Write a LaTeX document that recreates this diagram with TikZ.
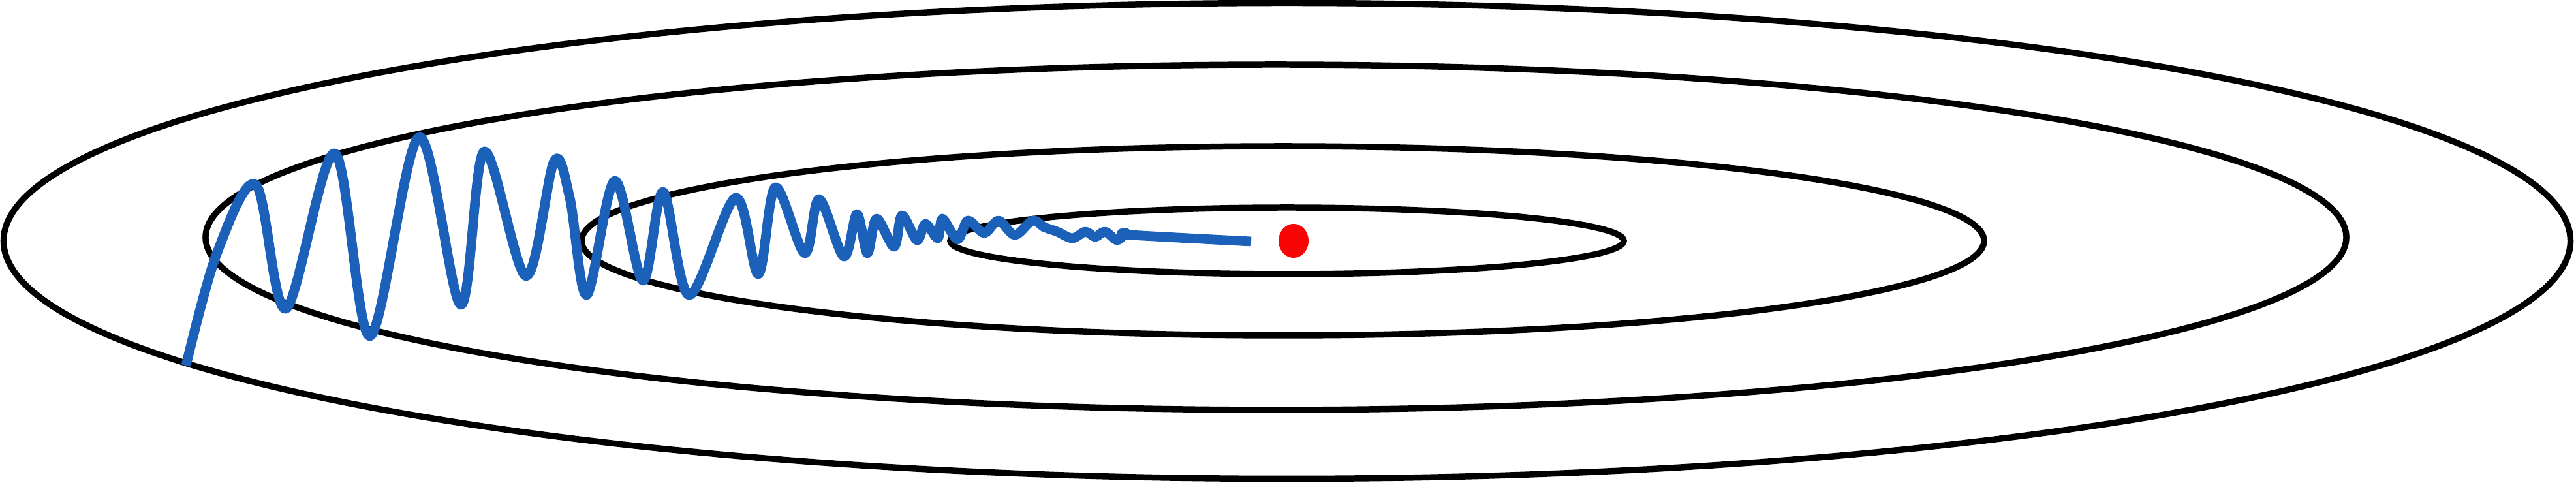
\documentclass[tikz,border=0pt]{standalone}
\usepackage{xcolor}
\usepackage{tikz}
\usetikzlibrary{shapes.geometric, positioning}
\definecolor{pathblue}{RGB}{27, 96, 185}
\definecolor{minred}{RGB}{250, 5, 5}

\begin{document}
\begin{tikzpicture}[
    contour/.style={draw=black, line width=2.7pt},
    descent/.style={draw=pathblue, line width=4.2pt, line join=round},
    minimum/.style={ellipse, fill=minred, inner sep=0pt,
                    minimum width=0.46cm, minimum height=0.52cm}
]
    \useasboundingbox (-19.72,-3.71) rectangle (19.75,3.69);

    % Level sets
    \draw[contour] (0,0) ellipse [x radius=19.665, y radius=3.645];
    \draw[contour] (-0.17,0.055) ellipse [x radius=16.40, y radius=2.645];
    \draw[contour] (-0.065,0) ellipse [x radius=10.745, y radius=1.45];
    \draw[contour] (0,0) ellipse [x radius=5.16, y radius=0.51];

    % Minimum
    \node[minimum] (opt) at (0.10,0) {};

    % Descent path
    \draw[descent] plot[smooth, tension=0.55] coordinates {
        (-16.87,-1.91) (-16.40,-0.20) (-15.80,0.86)
        (-15.34,-1.04) (-14.59,1.34) (-14.05,-1.46) (-13.30,1.59)
        (-12.66,-0.98) (-12.30,1.37) (-11.66,-0.54) (-11.23,1.22)
        (-10.99,0.66) (-10.73,-0.83) (-10.30,0.92) (-9.87,-0.61)
        (-9.56,0.75) (-9.16,-0.83) (-8.45,0.66) (-8.10,-0.51)
        (-7.84,0.82) (-7.39,-0.19) (-7.17,0.64) (-6.79,-0.24)
        (-6.59,0.41) (-6.43,-0.19) (-6.29,0.34) (-6.02,-0.09)
        (-5.90,0.39) (-5.67,0.01) (-5.54,0.26) (-5.35,0.04)
        (-5.28,0.34) (-5.05,0.02) (-4.89,0.31) (-4.64,0.12)
        (-4.42,0.31) (-4.17,0.09) (-3.90,0.31) (-3.72,0.21)
        (-3.52,0.14) (-3.29,0.04) (-3.09,0.14) (-2.94,0.06)
        (-2.79,0.14) (-2.60,0.01) (-2.47,0.12) (-2.39,0.09)
        (-0.55,-0.01)};
\end{tikzpicture}
\end{document}
